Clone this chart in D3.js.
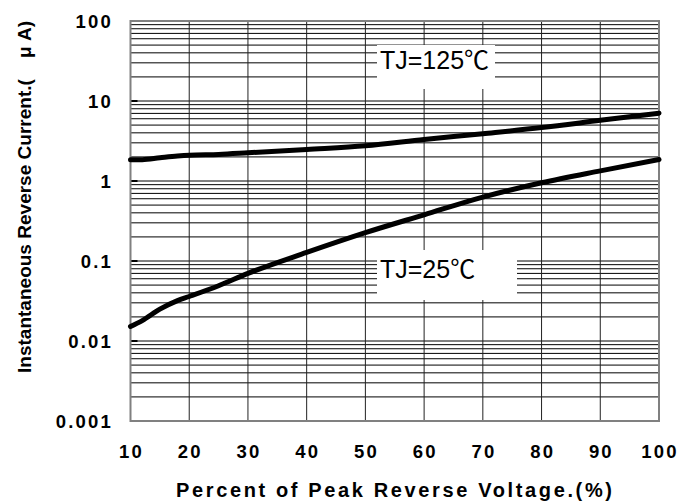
<!DOCTYPE html>
<html>
<head>
<meta charset="utf-8">
<script src="https://cdn.jsdelivr.net/npm/d3@7"></script>
<style>
body{margin:0;background:#fff;}
text{font-family:"Liberation Sans",Arial,"Noto Sans CJK SC",sans-serif;}
</style>
</head>
<body>
<div id="chart"></div>
<script>

// percent of peak reverse voltage
let pct=[10,12,15,18,20,25,30,40,50,60,70,80,90,100];

// reverse current (uA)
let tj125=[1.85,1.85,1.95,2.05,2.1,2.15,2.25,2.48,2.75,3.3,3.9,4.65,5.73,7.05];
let tj25=[0.0152,0.018,0.025,0.032,0.036,0.049,0.07,0.128,0.226,0.378,0.63,0.95,1.34,1.86];

let xTicks=[10,20,30,40,50,60,70,80,90,100];
let yTicks=[0.001,0.01,0.1,1,10,100];
let yTickLabels=["0.001","0.01","0.1","1","10","100"];

let seriesLabels=["TJ=125\u2103","TJ=25\u2103"];


let width=681;
let height=503;

let svg=d3.select("#chart").append("svg").attr("width",width).attr("height",height);

let x=d3.scaleLinear().domain([10,100]).range([130.5,659]);
let y=d3.scaleLog().domain([0.001,100]).range([421,21]);

let grid=svg.append("g").attr("id","grid");

// minor + major horizontal lines
let hLines=[];
for(let k=-3;k<2;k++){
	for(let m=1;m<10;m++){
		hLines.push(m*Math.pow(10,k));
	}
}

grid.selectAll(".hline")
	.data(hLines)
	.join("line")
	.attr("class","hline")
	.attr("x1",x(10)).attr("x2",x(100))
	.attr("y1",d=>y(d)).attr("y2",d=>y(d))
	.attr("stroke","#000")
	.attr("stroke-width",1);

grid.selectAll(".vline")
	.data(xTicks.slice(1,-1))
	.join("line")
	.attr("class","vline")
	.attr("x1",d=>x(d)).attr("x2",d=>x(d))
	.attr("y1",y(100)).attr("y2",y(0.001))
	.attr("stroke","#222")
	.attr("stroke-width",1);

// little decade ticks on the left edge
grid.selectAll(".dtick")
	.data(yTicks)
	.join("line")
	.attr("class","dtick")
	.attr("x1",x(10)).attr("x2",x(10)+7)
	.attr("y1",d=>y(d)).attr("y2",d=>y(d))
	.attr("stroke","#000")
	.attr("stroke-width",2);

svg.append("rect")
	.attr("x",x(10)).attr("y",y(100))
	.attr("width",x(100)-x(10)).attr("height",y(0.001)-y(100))
	.attr("fill","none")
	.attr("stroke","#808080")
	.attr("stroke-width",2);

// label boxes (white, hide the grid behind)
let boxes=[{x:377,y:45,w:118,h:44,tx:380,ty:69},{x:377,y:250,w:140,h:50,tx:380,ty:278}];

svg.selectAll(".lblbox")
	.data(boxes)
	.join("rect")
	.attr("class","lblbox")
	.attr("x",d=>d.x).attr("y",d=>d.y)
	.attr("width",d=>d.w).attr("height",d=>d.h)
	.attr("fill","#fff");

svg.selectAll(".lbl")
	.data(boxes)
	.join("text")
	.attr("class","lbl")
	.attr("x",d=>d.tx).attr("y",d=>d.ty)
	.style("font-size","25px")
	.attr("fill","#000")
	.text((d,i)=>seriesLabels[i]);


let line=d3.line()
	.x((d,i)=>x(pct[i]))
	.y(d=>y(d))
	.curve(d3.curveMonotoneX);

svg.selectAll(".curve")
	.data([tj125,tj25])
	.join("path")
	.attr("class","curve")
	.attr("d",d=>line(d))
	.attr("fill","none")
	.attr("stroke","#000")
	.attr("stroke-width",5)
	.attr("stroke-linecap","round");


// axis tick labels
svg.selectAll(".ylab")
	.data(yTicks)
	.join("text")
	.attr("class","ylab")
	.attr("x",113)
	.attr("y",d=>y(d)+6.5)
	.attr("text-anchor","end")
	.style("font-size","18.5px")
	.style("font-weight","bold")
	.style("letter-spacing","2.2px")
	.text((d,i)=>yTickLabels[i]);

svg.selectAll(".xlab")
	.data(xTicks)
	.join("text")
	.attr("class","xlab")
	.attr("x",d=>x(d)+1.1)
	.attr("y",458)
	.attr("text-anchor","middle")
	.style("font-size","18.5px")
	.style("font-weight","bold")
	.style("letter-spacing","2.2px")
	.text(d=>d);

// axis titles
svg.append("text")
	.attr("x",176)
	.attr("y",497)
	.attr("textLength",436)
	.attr("lengthAdjust","spacing")
	.style("font-size","20px")
	.style("font-weight","bold")
	.text("Percent of Peak Reverse Voltage.(%)");

svg.append("text")
	.attr("transform","translate(31,373) rotate(-90)")
	.attr("textLength",352)
	.attr("lengthAdjust","spacingAndGlyphs")
	.style("font-size","19px")
	.style("font-weight","bold")
	.style("white-space","pre")
	.text("Instantaneous Reverse Current.(    \u03bc A)");

</script>
</body>
</html>
